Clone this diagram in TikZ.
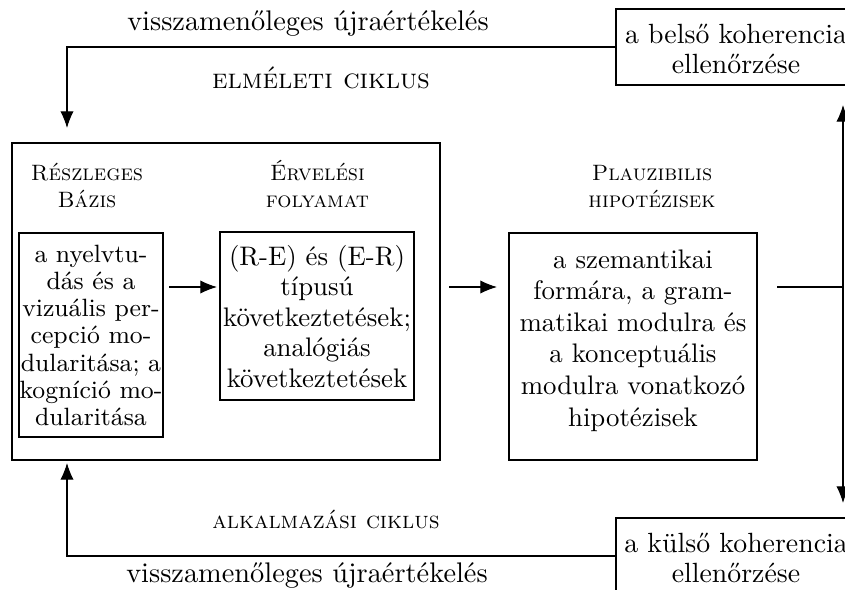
\documentclass[tikz,border=0pt]{standalone}
\usetikzlibrary{arrows.meta}
% one drawing unit
\newdimen\pxu \pxu=0.35971pt
% a centred line inside a fixed-width stack
\newcommand\rowtxt[1]{\hbox to\hsize{\hss#1\hss}}
% two centred lines, baseline at the first one
\newcommand\twoline[3]{\vtop{\baselineskip=#1\lineskiplimit=-\maxdimen
  \halign{\hfil##\hfil\cr#2\cr#3\cr}}}
\begin{document}
\begin{tikzpicture}[x=0.35971pt,y=-0.35971pt,
  box/.style={draw, inner sep=0pt, outer sep=0pt},
  hdr/.style={font=\footnotesize\scshape, anchor=base, inner sep=0pt},
  cyc/.style={font=\scshape, anchor=base, inner sep=0pt},
  lbl/.style={font=\fontsize{10.2}{12}\selectfont, anchor=base, inner sep=0pt},
  arr/.style={-{Latex[length=6pt,width=4.8pt]}}]
\useasboundingbox (0,0) rectangle (845,589);

% coherence checks on the right
\node[box] (belso) at (736,47) {\vbox to 76\pxu{\hsize=240\pxu\baselineskip=30\pxu\lineskiplimit=-\maxdimen
  \rowtxt{\vrule width0pt height34\pxu\relax a belső koherencia}
  \rowtxt{ellenőrzése}\vss}};
\node[box] (kulso) at (736,556) {\vbox to 76\pxu{\hsize=240\pxu\baselineskip=30\pxu\lineskiplimit=-\maxdimen
  \rowtxt{\vrule width0pt height34\pxu\relax a külső koherencia}
  \rowtxt{ellenőrzése}\vss}};

% the frame holding base and reasoning
\node[box, minimum width=428\pxu, minimum height=317\pxu] (base) at (226,301.5) {};

\node[hdr] (h1) at (87,180) {\twoline{27.5\pxu}{Részleges}{Bázis}};
\node[hdr] (h2) at (317.5,180) {\twoline{27.5\pxu}{Érvelési}{folyamat}};
\node[hdr] (h3) at (652,180) {\twoline{27.5\pxu}{Plauzibilis}{hipotézisek}};

\node[box, font=\fontsize{9}{11}\selectfont] (lb) at (91,335) {\vbox to 204\pxu{\hsize=144\pxu\baselineskip=27.3\pxu\lineskiplimit=-\maxdimen
  \rowtxt{\vrule width0pt height29\pxu\relax a nyelvtu-}
  \rowtxt{dás és a}
  \rowtxt{vizuális per-}
  \rowtxt{cepció mo-}
  \rowtxt{dularitása; a}
  \rowtxt{kogníció mo-}
  \rowtxt{dularitása}\vss}};

\node[box, font=\fontsize{9.65}{11.5}\selectfont] (mb) at (317,316) {\vbox to 168\pxu{\hsize=194\pxu\baselineskip=30.6\pxu\lineskiplimit=-\maxdimen
  \rowtxt{\vrule width0pt height33\pxu\relax (R-E) és (E-R)}
  \rowtxt{típusú}
  \rowtxt{következtetések;}
  \rowtxt{analógiás}
  \rowtxt{következtetések}\vss}};

\node[box, font=\fontsize{9.65}{11.5}\selectfont] (hb) at (633,346.5) {\vbox to 227\pxu{\hsize=248\pxu\baselineskip=31.6\pxu\lineskiplimit=-\maxdimen
  \rowtxt{\vrule width0pt height35\pxu\relax a szemantikai}
  \rowtxt{formára, a gram-}
  \rowtxt{matikai modulra és}
  \rowtxt{a konceptuális}
  \rowtxt{modulra vonatkozó}
  \rowtxt{hipotézisek}\vss}};

% cycle labels
\node[lbl] (t1) at (308,30) {visszamenőleges újraértékelés};
\node[cyc] (c1) at (321,88) {elméleti ciklus};
\node[cyc, font=\fontsize{8.5}{10}\selectfont\scshape] (c2) at (326,528) {alkalmazási ciklus};
\node[lbl] (t2) at (307,582) {visszamenőleges újraértékelés};

% helper coordinates
\coordinate (row) at (0,287);
\coordinate (loopx) at (67,0);
\coordinate (split) at (843,287);

% connectors
\draw[arr, shorten <=6\pxu, shorten >=3\pxu] (lb.east |- row) -- (mb.west |- row);
\draw[arr, shorten <=9\pxu, shorten >=12\pxu] (base.east |- row) -- (hb.west |- row);
\draw[shorten <=20\pxu] (hb.east |- row) -- (split);
\draw[arr, shorten >=20\pxu] (split) -- (split |- belso.south);
\draw[arr, shorten >=15\pxu] (split) -- (split |- kulso.north);
\draw[arr, shorten >=15\pxu] (belso.west) -| (loopx |- base.north);
\draw[arr, shorten >=3\pxu] (kulso.west) -| (loopx |- base.south);
\end{tikzpicture}
\end{document}
